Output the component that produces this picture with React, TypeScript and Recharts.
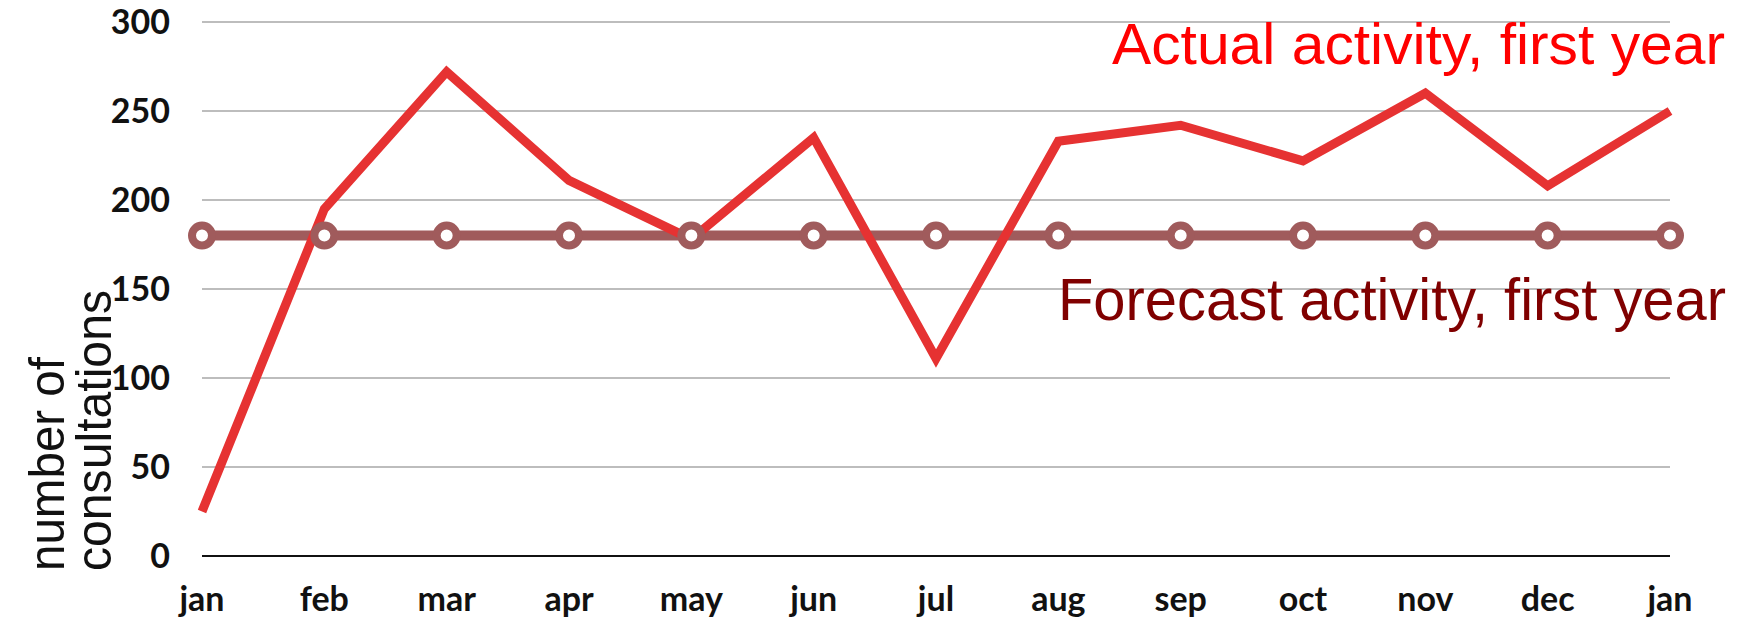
import { LineChart, Line, XAxis, YAxis, CartesianGrid } from 'recharts';

const MONTHS = ['jan', 'feb', 'mar', 'apr', 'may', 'jun', 'jul', 'aug', 'sep', 'oct', 'nov', 'dec', 'jan'];
const ACTUAL = [25, 195, 272, 211, 178, 235, 111, 233, 242, 222, 260, 208, 250];
const FORECAST = [180, 180, 180, 180, 180, 180, 180, 180, 180, 180, 180, 180, 180];
const Y_TICKS = [0, 50, 100, 150, 200, 250, 300];

const ACTUAL_LABEL = 'Actual activity, first year';
const FORECAST_LABEL = 'Forecast activity, first year';

const W = 1749;
const H = 622;

const tickFont = { fontFamily: 'Lato, sans-serif', fontWeight: 700, fontSize: 34, fill: '#111' };

export default function App() {
  const data = MONTHS.map((m, i) => ({
    key: i,
    month: m,
    actual: ACTUAL[i],
    forecast: FORECAST[i],
  }));

  return (
    <div style={{ position: 'absolute', left: 0, top: 0, width: W, height: H, background: '#fff' }}>
      <LineChart
        width={W}
        height={H}
        data={data}
        margin={{ top: 22, right: 79, bottom: 0, left: 122 }}
      >
        <CartesianGrid vertical={false} stroke='#bdbdbd' strokeWidth={2} />
        <XAxis
          dataKey='key'
          tickFormatter={(i: number) => MONTHS[i]}
          tick={tickFont}
          tickLine={false}
          tickSize={0}
          tickMargin={31}
          axisLine={{ stroke: '#111', strokeWidth: 2 }}
          height={66}
          interval={0}
        />
        <YAxis
          domain={[0, 300]}
          ticks={Y_TICKS}
          tick={tickFont}
          tickLine={false}
          tickSize={0}
          tickMargin={32}
          axisLine={false}
          width={80}
        />
        <Line
          dataKey='forecast'
          stroke='#a05b5c'
          strokeWidth={10}
          dot={{ r: 10, fill: '#fff', stroke: '#a05b5c', strokeWidth: 8 }}
          activeDot={false}
          isAnimationActive={false}
        />
        <Line
          dataKey='actual'
          stroke='#e63232'
          strokeWidth={9}
          strokeLinejoin='miter'
          dot={false}
          activeDot={false}
          isAnimationActive={false}
        />
      </LineChart>
      <svg
        width={W}
        height={H}
        style={{ position: 'absolute', left: 0, top: 0, pointerEvents: 'none' }}
      >
        <g fontFamily='"Liberation Sans", Arial, sans-serif'>
          <text x={1112} y={64} fontSize={57} fill='#ff0000' textLength={613} lengthAdjust='spacingAndGlyphs'>
            {ACTUAL_LABEL}
          </text>
          <text x={1058} y={320} fontSize={60} fill='#800000' textLength={668} lengthAdjust='spacingAndGlyphs'>
            {FORECAST_LABEL}
          </text>
          <g transform='translate(64, 571) rotate(-90)'>
            <text x={0} y={0} fontSize={50} fill='#111' textLength={214} lengthAdjust='spacingAndGlyphs'>
              number of
            </text>
            <text x={0} y={47} fontSize={50} fill='#111' textLength={281} lengthAdjust='spacingAndGlyphs'>
              consultations
            </text>
          </g>
        </g>
      </svg>
    </div>
  );
}
